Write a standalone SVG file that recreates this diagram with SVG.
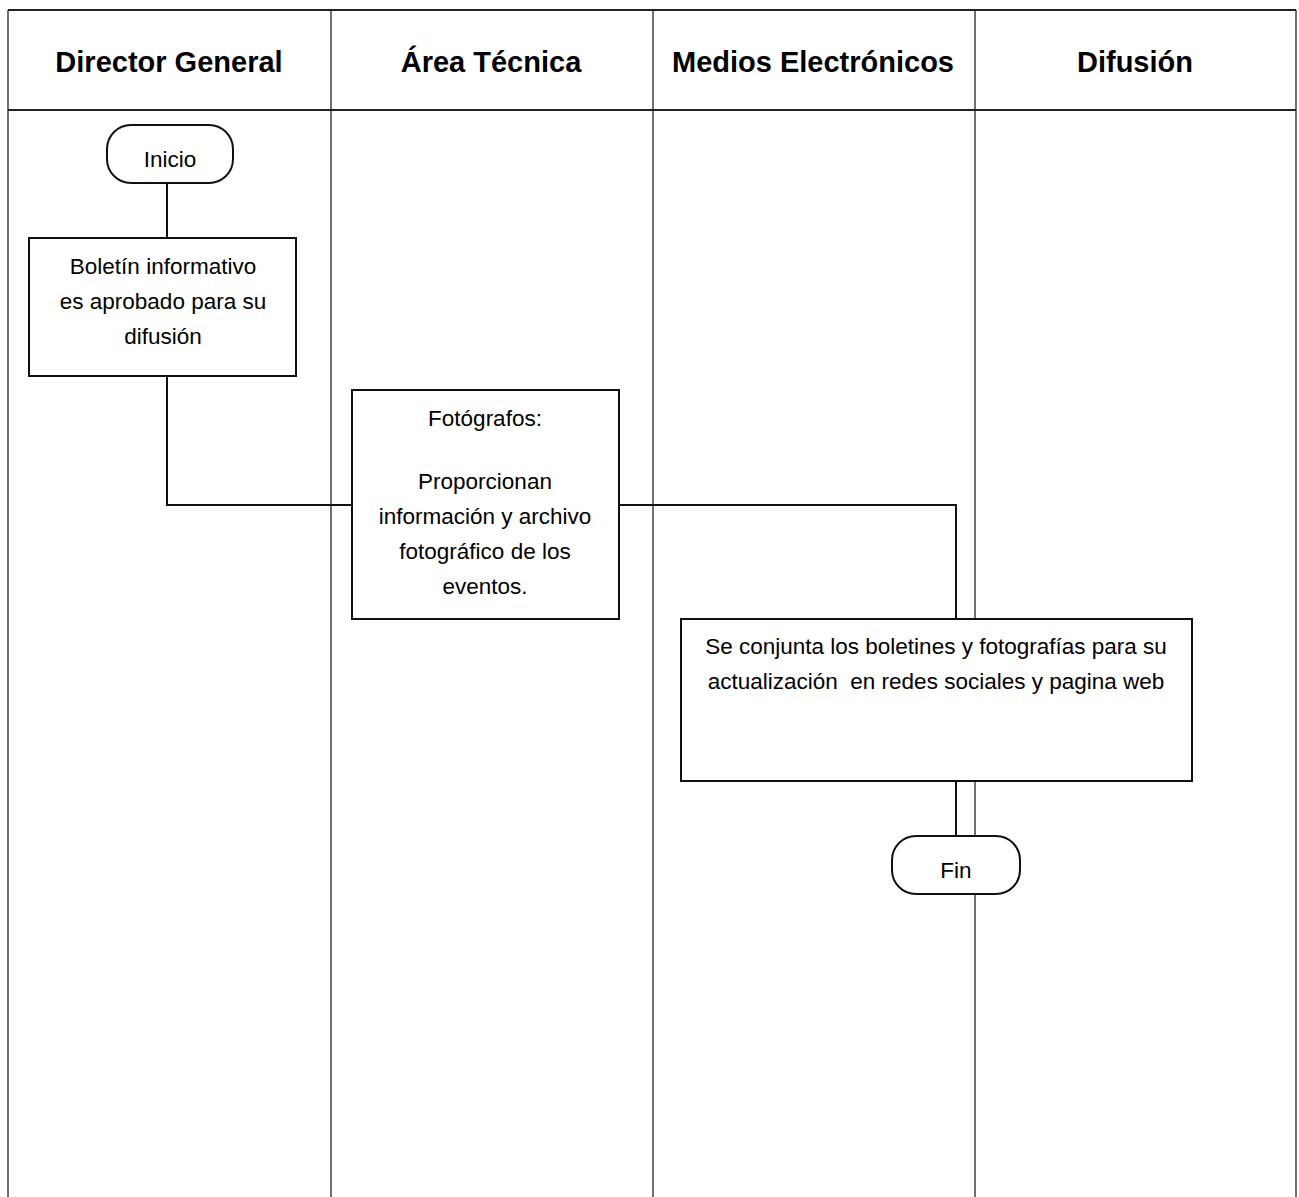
<svg xmlns="http://www.w3.org/2000/svg" width="1299" height="1197" viewBox="0 0 1299 1197">
<style>
.grid{stroke:#222;stroke-width:1.3;fill:none}
.box{fill:#fff;stroke:#111;stroke-width:2}
.hdr{font-family:"Liberation Sans",Arial,sans-serif;font-weight:bold;font-size:29px;fill:#000;text-anchor:middle}
.t{font-family:"Liberation Sans",Arial,sans-serif;font-size:22.5px;fill:#000;text-anchor:middle}
.conn{stroke:#111;stroke-width:2;fill:none}
</style>
<rect x="0" y="0" width="1299" height="1197" fill="#fff"/>
<g id="lanes">
<line class="grid" x1="8" y1="10" x2="1296" y2="10" style="stroke-width:2"/>
<line class="grid" x1="8" y1="110" x2="1296" y2="110" style="stroke-width:2"/>
<line class="grid" x1="8" y1="10" x2="8" y2="1197"/>
<line class="grid" x1="331" y1="10" x2="331" y2="1197"/>
<line class="grid" x1="653" y1="10" x2="653" y2="1197"/>
<line class="grid" x1="975" y1="10" x2="975" y2="1197"/>
<line class="grid" x1="1296" y1="10" x2="1296" y2="1197"/>
<text class="hdr" x="169" y="72">Director General</text>
<text class="hdr" x="491" y="72">Área Técnica</text>
<text class="hdr" x="813" y="72">Medios Electrónicos</text>
<text class="hdr" x="1135" y="72">Difusión</text>
</g>
<g id="connectors">
<polyline class="conn" points="167,183 167,238"/>
<polyline class="conn" points="167,376 167,505 352,505"/>
<polyline class="conn" points="619,505 956,505 956,619"/>
<polyline class="conn" points="956,781 956,836"/>
</g>
<g id="inicio">
<rect class="box" x="107" y="125" width="126" height="58" rx="24"/>
<text class="t" x="170" y="167">Inicio</text>
</g>
<g id="boletin">
<rect class="box" x="29" y="238" width="267" height="138"/>
<text class="t" x="163" y="274">Boletín informativo</text>
<text class="t" x="163" y="309">es aprobado para su</text>
<text class="t" x="163" y="344">difusión</text>
</g>
<g id="fotografos">
<rect class="box" x="352" y="390" width="267" height="229"/>
<text class="t" x="485" y="426">Fotógrafos:</text>
<text class="t" x="485" y="489">Proporcionan</text>
<text class="t" x="485" y="524">información y archivo</text>
<text class="t" x="485" y="559">fotográfico de los</text>
<text class="t" x="485" y="594">eventos.</text>
</g>
<g id="conjunta">
<rect class="box" x="681" y="619" width="511" height="162"/>
<text class="t" x="936" y="654">Se conjunta los boletines y fotografías para su</text>
<text class="t" x="936" y="689" xml:space="preserve">actualización  en redes sociales y pagina web</text>
</g>
<g id="fin">
<rect class="box" x="892" y="836" width="128" height="58" rx="24"/>
<text class="t" x="956" y="878">Fin</text>
</g>
</svg>
